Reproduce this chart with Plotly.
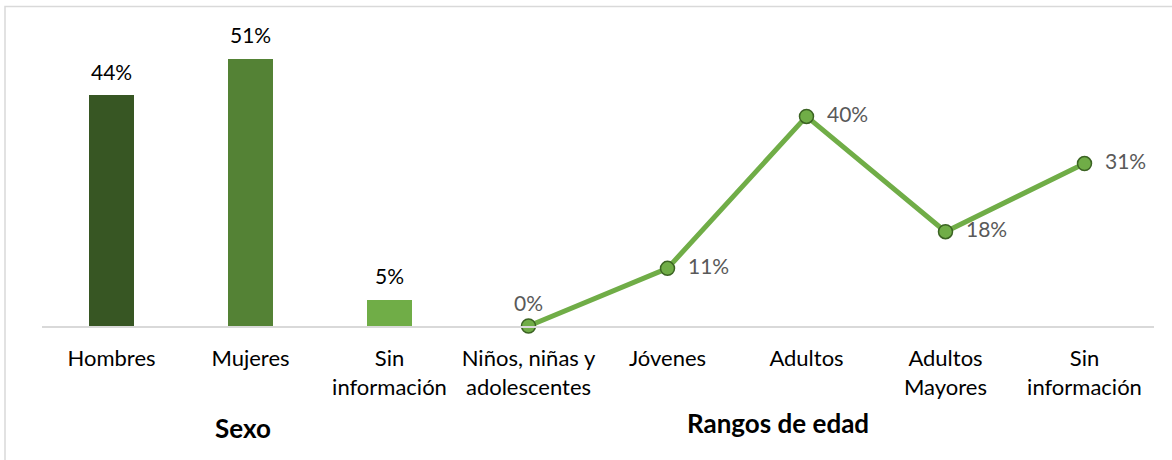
import plotly.graph_objects as go

sexo_cats = ["Hombres", "Mujeres", "Sin<br>información"]
sexo_vals = [44, 51, 5]
sexo_colors = ["#375623", "#548235", "#70AD47"]

edad_cats = ["Niños, niñas y<br>adolescentes", "Jóvenes", "Adultos", "Adultos<br>Mayores", "Sin<br>información"]
edad_vals = [0, 11, 40, 18, 31]

group_titles = ["Sexo", "Rangos de edad"]

FONT = "Lato"

n_s = len(sexo_cats)
x_s = list(range(n_s))
x_e = list(range(n_s, n_s + len(edad_cats)))

fig = go.Figure()
fig.add_trace(go.Bar(
    x=x_s, y=sexo_vals, marker=dict(color=sexo_colors, line=dict(width=0)),
    width=0.32, showlegend=False, hoverinfo="skip",
))
label_pos = ["top center"] + ["middle right"] * (len(edad_vals) - 1)
fig.add_trace(go.Scatter(
    x=x_e, y=edad_vals, mode="lines+markers+text",
    line=dict(color="#70AD47", width=5),
    marker=dict(size=14, color="#70AD47", line=dict(color="#3B6323", width=1.5)),
    text=[f"  {v}%" if p == "middle right" else f"{v}%" for v, p in zip(edad_vals, label_pos)],
    textposition=label_pos,
    textfont=dict(family=FONT, size=21, color="#595959"),
    cliponaxis=False, showlegend=False,
))

annotations = [
    dict(text=f"{v}%", x=x, y=v, xref="x", yref="y", yshift=24, showarrow=False,
         xanchor="center", yanchor="middle",
         font=dict(family=FONT, size=21, color="#000000"))
    for x, v in zip(x_s, sexo_vals)
]
annotations += [
    dict(text=f"<b>{group_titles[0]}</b>", xref="paper", yref="paper",
         x=(243-42)/1112, y=-(428-326)/306, showarrow=False,
         xanchor="center", yanchor="middle",
         font=dict(family=FONT, size=26, color="#000000")),
    dict(text=f"<b>{group_titles[1]}</b>", xref="paper", yref="paper",
         x=(778-42)/1112, y=-(423-326)/306, showarrow=False,
         xanchor="center", yanchor="middle",
         font=dict(family=FONT, size=26, color="#000000")),
]

fig.update_layout(
    width=1172, height=460,
    margin=dict(l=42, r=18, t=20, b=134),
    paper_bgcolor="white", plot_bgcolor="white",
    font=dict(family=FONT, size=22, color="#000000"),
    bargap=0,
    xaxis=dict(
        range=[-0.5, n_s + len(edad_cats) - 0.5],
        tickmode="array", tickvals=x_s + x_e, ticktext=sexo_cats + edad_cats,
        showline=True, linecolor="#D9D9D9", linewidth=2,
        ticks="outside", ticklen=12, tickcolor="rgba(0,0,0,0)",
        showgrid=False, zeroline=False,
        tickfont=dict(family=FONT, size=22, color="#000000"),
    ),
    yaxis=dict(range=[0, 58.4], visible=False, showgrid=False, zeroline=False),
    shapes=[dict(type="rect", xref="paper", yref="paper",
                 x0=-37/1112, x1=1.1, y0=-0.6, y1=(326-6.5)/306,
                 line=dict(color="#D9D9D9", width=1.5), fillcolor="rgba(0,0,0,0)", layer="below")],
    annotations=annotations,
)

fig.write_html("out.html", config={"displayModeBar": False},
               post_script="document.body.style.margin='0';document.body.style.overflow='hidden';")
